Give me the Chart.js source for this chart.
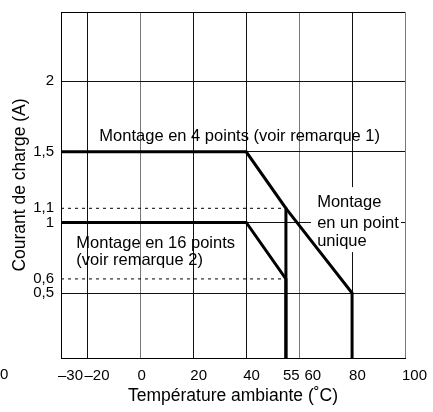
<!DOCTYPE html>
<html>
<head>
<meta charset="utf-8">
<script src="https://cdn.jsdelivr.net/npm/chart.js@4/dist/chart.umd.min.js"></script>
<style>
  html, body { margin: 0; padding: 0; background: #fff; }
</style>
</head>
<body>
<canvas id="chart" width="433" height="412"></canvas>
<script>
// axis ticks
var xTicks = [-30, -20, 0, 20, 40, 55, 60, 80, 100];
var xTickLabels = ['–30', '–20', '0', '20', '40', '55', '  60', '80', '100'];
var yTicks = [0.5, 0.6, 1, 1.1, 1.5, 2];
var yTickLabels = ['0,5', '0,6', '1', '1,1', '1,5', '2'];

// derating curves (temperature, current)
var temp4pts = [-30, 40, 55, 55];
var amp4pts = [1.5, 1.5, 1.1, 0];
var temp1pt = [55, 80, 80];
var amp1pt = [1.1, 0.5, 0];
var temp16pts = [-30, 40, 55, 55];
var amp16pts = [1, 1, 0.6, 0];

// dotted reference levels
var refTemps = [-30, 55];
var refLevels = [1.1, 0.6];

var noteLines = [
  ['Montage en 4 points (voir remarque 1)'],
  ['Montage en 16 points', '(voir remarque 2)'],
  ['Montage', 'en un point', 'unique']
];

var FONT = 'Liberation Sans, Arial, Helvetica, sans-serif';

function pts(xs, ys) {
  return xs.map(function (x, i) { return { x: x, y: ys[i] }; });
}

var datasets = [];
datasets.push({ data: pts(temp4pts, amp4pts), borderColor: '#000', borderWidth: 3 });
datasets.push({ data: pts(temp1pt, amp1pt), borderColor: '#000', borderWidth: 3 });
datasets.push({ data: pts(temp16pts, amp16pts), borderColor: '#000', borderWidth: 3 });
refLevels.forEach(function (lv) {
  datasets.push({
    data: pts(refTemps, refTemps.map(function () { return lv; })),
    borderColor: '#000', borderWidth: 1, borderDash: [3, 4]
  });
});

// text notes + top frame edge + white patch behind the single point note
var notesPlugin = {
  id: 'notes',
  beforeDatasetsDraw: function (chart) {
    var ctx = chart.ctx, a = chart.chartArea, sx = chart.scales.x, sy = chart.scales.y;
    ctx.save();
    ctx.strokeStyle = '#000';
    ctx.lineWidth = 1;
    ctx.beginPath();
    ctx.moveTo(a.left, a.top + 0.5);
    ctx.lineTo(a.right, a.top + 0.5);
    ctx.stroke();
    var l = sx.getPixelForValue(64.5), r = sx.getPixelForValue(98.5);
    var t = sy.getPixelForValue(1.25), b = sy.getPixelForValue(0.79);
    ctx.fillStyle = '#fff';
    ctx.fillRect(l, t, r - l, b - t);
    ctx.restore();
  },
  afterDatasetsDraw: function (chart) {
    var ctx = chart.ctx, sx = chart.scales.x, sy = chart.scales.y;
    var at = [
      { x: -15.5, y: [1.579] },
      { x: -24.2, y: [0.821, 0.7] },
      { x: 66.8, y: [1.107, 0.964, 0.836] }
    ];
    ctx.save();
    ctx.fillStyle = '#000';
    ctx.font = '16.5px ' + FONT;
    ctx.textAlign = 'left';
    ctx.textBaseline = 'alphabetic';
    noteLines.forEach(function (lines, i) {
      lines.forEach(function (s, j) {
        ctx.fillText(s, sx.getPixelForValue(at[i].x), sy.getPixelForValue(at[i].y[j]));
      });
    });
    ctx.restore();
  },
  afterDraw: function (chart) {
    // stray "0" at far left of the tick row in the original
    var ctx = chart.ctx;
    ctx.save();
    ctx.fillStyle = '#000';
    ctx.font = '15px ' + FONT;
    ctx.textAlign = 'left';
    ctx.textBaseline = 'top';
    ctx.fillText('0', 0, chart.chartArea.bottom + 9);
    ctx.restore();
  }
};

new Chart(document.getElementById('chart'), {
  type: 'line',
  data: { datasets: datasets },
  plugins: [notesPlugin],
  options: {
    responsive: false,
    animation: false,
    layout: { padding: { top: 12, right: 28, left: 0, bottom: 0 } },
    plugins: { legend: { display: false }, tooltip: { enabled: false } },
    elements: { point: { radius: 0 }, line: { tension: 0, fill: false } },
    scales: {
      x: {
        type: 'linear', min: -30, max: 100,
        afterBuildTicks: function (s) { s.ticks = xTicks.map(function (v) { return { value: v }; }); },
        afterFit: function (s) { s.height = 54; s.paddingLeft = 0; s.paddingRight = 0; },
        ticks: {
          autoSkip: false, maxRotation: 0, align: 'start', padding: 9, labelOffset: -3, color: '#000',
          font: { family: FONT, size: 15 },
          callback: function (v, i) { return xTickLabels[i]; }
        },
        grid: {
          drawTicks: false, lineWidth: 1,
          color: function (c) {
            var v = c.tick ? c.tick.value : null;
            if (v === 55) return 'rgba(0,0,0,0)';
            if (v === 0 || v === 60 || v === 100) return '#777';
            return '#111';
          }
        },
        border: { color: '#000', width: 1 },
        title: {
          display: true, text: 'Température ambiante (˚C)', color: '#000',
          font: { family: FONT, size: 17.5 }, padding: { top: 0, bottom: 5 }
        }
      },
      y: {
        type: 'linear', min: 0.04, max: 2.49,
        afterBuildTicks: function (s) { s.ticks = yTicks.map(function (v) { return { value: v }; }); },
        afterFit: function (s) { s.width = 61; s.paddingTop = 0; s.paddingBottom = 0; },
        ticks: {
          autoSkip: false, padding: 7, color: '#000',
          font: { family: FONT, size: 15 },
          callback: function (v, i) { return yTickLabels[i]; }
        },
        grid: {
          drawTicks: false, lineWidth: 1,
          color: function (c) {
            var v = c.tick ? c.tick.value : null;
            if (v === 0.6 || v === 1.1) return 'rgba(0,0,0,0)';
            return '#111';
          }
        },
        border: { color: '#000', width: 1 },
        title: {
          display: true, text: 'Courant de charge (A)', color: '#000',
          font: { family: FONT, size: 17.5 }, padding: { top: 10, bottom: 0 }
        }
      }
    }
  }
});
</script>
</body>
</html>
